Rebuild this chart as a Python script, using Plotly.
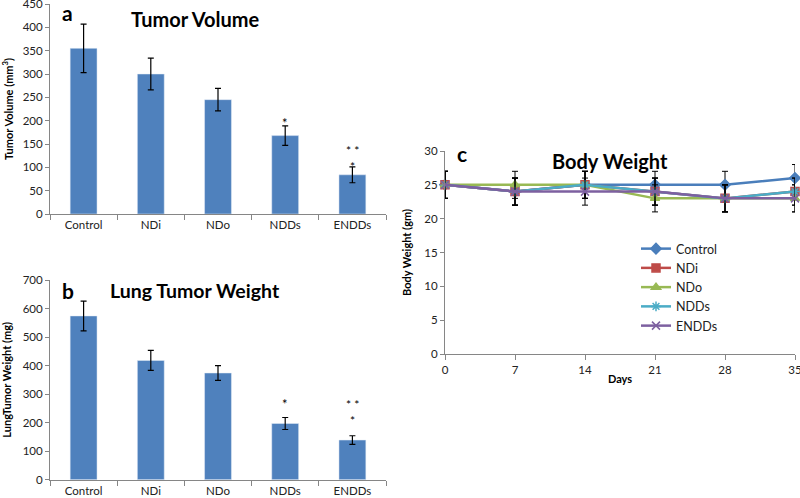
import plotly.graph_objects as go

groups = ["Control", "NDi", "NDo", "NDDs", "ENDDs"]
tumor_volume = [355, 300, 245, 168, 84]
tumor_volume_err = [52, 34, 24, 21, 17]
lung_weight = [574, 418, 374, 197, 139]
lung_weight_err = [52, 35, 26, 21, 15]

days = [0, 7, 14, 21, 28, 35]
bw_control = [25, 24, 25, 25, 25, 26]
bw_ndi = [25, 24, 25, 24, 23, 24]
bw_ndo = [25, 25, 25, 23, 23, 23]
bw_ndds = [25, 24, 25, 24, 23, 24]
bw_endds = [25, 24, 24, 24, 23, 23]
bw_err = [2, 2, 2, 2, 2, 2]

W, H = 800, 498
def fx(px): return px / W
def fy(py): return (H - py) / H

FONT = "Lato"
BAR = "#4f81bd"
AX = "#868686"

fig = go.Figure()

fig.add_trace(go.Bar(x=groups, y=tumor_volume, marker_color=BAR, width=0.4,
                     error_y=dict(type="data", array=tumor_volume_err, color="black", thickness=1.2, width=3),
                     xaxis="x", yaxis="y", showlegend=False))
fig.add_trace(go.Bar(x=groups, y=lung_weight, marker_color=BAR, width=0.4,
                     error_y=dict(type="data", array=lung_weight_err, color="black", thickness=1.2, width=3),
                     xaxis="x2", yaxis="y2", showlegend=False))

series = [
    ("Control", bw_control, "#4a7ebb", "diamond"),
    ("NDi", bw_ndi, "#be4b48", "square"),
    ("NDo", bw_ndo, "#98b954", "triangle-up"),
    ("NDDs", bw_ndds, "#4bacc6", "asterisk-open"),
    ("ENDDs", bw_endds, "#7d60a0", "x-thin-open"),
]
for name, ys, col, sym in series:
    fig.add_trace(go.Scatter(x=days, y=ys, name=name, mode="lines+markers", cliponaxis=False,
                             line=dict(color=col, width=2.5),
                             marker=dict(symbol=sym, size=8, color=col, line=dict(color=col, width=1.5)),
                             error_y=dict(type="data", array=bw_err, color="black", thickness=1, width=3),
                             xaxis="x3", yaxis="y3"))

tickfont = dict(family=FONT, size=11.5, color="#222")
common_x = dict(showline=True, linecolor=AX, ticks="outside", tickcolor=AX, ticklen=5,
                tickfont=tickfont, showgrid=False, zeroline=False, automargin=False,
                ticklabeloverflow="allow")
common_y = dict(showline=True, linecolor=AX, ticks="outside", tickcolor=AX, ticklen=4,
                tickfont=tickfont, showgrid=False, zeroline=False, automargin=False,
                ticklabeloverflow="allow")
tfont = dict(family=FONT, size=11, color="black")

fig.update_layout(
    width=W, height=H, margin=dict(l=0, r=0, t=0, b=0, autoexpand=False),
    paper_bgcolor="white", plot_bgcolor="white", bargap=0.6,
    xaxis=dict(domain=[fx(50), fx(386)], anchor="y", tickson="boundaries", **common_x),
    yaxis=dict(domain=[fy(214), fy(4)], anchor="x", range=[0, 450], dtick=50,
               title=dict(text="<b>Tumor Volume (mm<sup>3</sup>)</b>", font=tfont, standoff=8),
               **common_y),
    xaxis2=dict(domain=[fx(50), fx(386)], anchor="y2", tickson="boundaries", **common_x),
    yaxis2=dict(domain=[fy(479.7), fy(280)], anchor="x2", range=[0, 700], dtick=100,
                title=dict(text="<b>LungTumor Weight (mg)</b>", font=tfont, standoff=8),
                **common_y),
    xaxis3=dict(domain=[fx(445), fx(795)], anchor="y3", range=[0, 35], tickvals=days,
                title=dict(text="<b>Days</b>", font=tfont, standoff=0),
                **common_x),
    yaxis3=dict(domain=[fy(354), fy(151)], anchor="x3", range=[0, 30], dtick=5,
                title=dict(text="<b>Body Weight (gm)</b>", font=tfont, standoff=10),
                **common_y),
    legend=dict(x=fx(636), y=fy(234), xanchor="left", yanchor="top", bgcolor="rgba(0,0,0,0)",
                font=dict(family=FONT, size=12.5, color="#222"), tracegroupgap=0, itemwidth=30),
)

ann = []
def lab(x, y, text, size, xa="left"):
    ann.append(dict(x=fx(x), y=fy(y), xref="paper", yref="paper", text=text, showarrow=False,
                    xanchor=xa, yanchor="middle", font=dict(family=FONT, size=size, color="black")))
lab(60, 13, "<b>a</b>", 21)
lab(195, 19, "<b>Tumor Volume</b>", 20, "center")
lab(60, 290, "<b>b</b>", 21)
lab(195, 290, "<b>Lung Tumor Weight</b>", 19.5, "center")
lab(455, 154, "<b>c</b>", 21)
lab(610, 161, "<b>Body Weight</b>", 20, "center")

def star(xr, yr, x, y, text, size=13):
    ann.append(dict(x=x, y=y, xref=xr, yref=yr, text=text, showarrow=False,
                    font=dict(family=FONT, size=size, color="black")))
star("x", "y", "NDDs", 194, "*")
star("x", "y", "ENDDs", 119, "* *<br>*", 12)
star("x2", "y2", "NDDs", 265, "*")
star("x2", "y2", "ENDDs", 235, "* *<br>*", 12)
fig.update_layout(annotations=ann)

fig.write_html("out.html", config={"displayModeBar": False},
               post_script="document.body.style.margin='0';document.body.style.overflow='hidden';")
